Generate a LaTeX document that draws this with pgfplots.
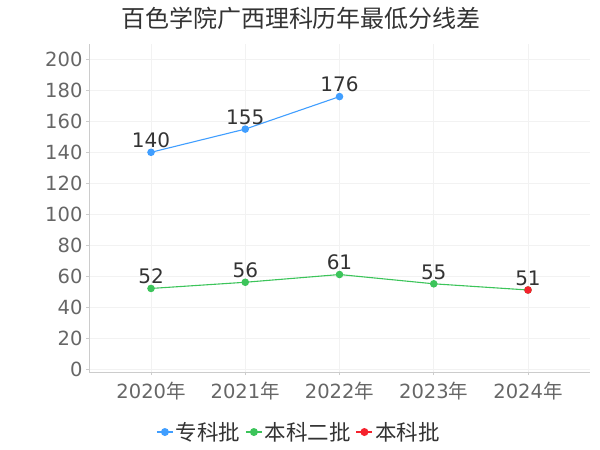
\documentclass[border=0pt]{standalone}
\usepackage{pgfplots}
\pgfplotsset{compat=1.18}
\usepackage{fontspec}
\setmainfont{DejaVu Sans}
\newfontfamily\cjk{Noto Sans CJK SC}
\definecolor{cblue}{HTML}{409EFF}
\definecolor{cgreen}{HTML}{3CC45A}
\definecolor{cred}{HTML}{F5222D}
\definecolor{ctick}{HTML}{666666}
\definecolor{clabel}{HTML}{333333}
\definecolor{caxis}{HTML}{CCCCCC}
\definecolor{cgrid}{HTML}{F2F2F2}
\begin{document}
\begin{tikzpicture}[x=1pt,y=1pt]
\path[use as bounding box] (0,0) rectangle (600,450);
\node[font=\cjk\fontsize{24}{27}\selectfont, text=clabel] at (301,432) {百色学院广西理科历年最低分线差};
\begin{axis}[
  at={(89pt,78pt)}, anchor=south west,
  scale only axis, width=501pt, height=328pt,
  xmin=-0.658, xmax=4.658, ymin=-2, ymax=210,
  xtick={0,1,2,3,4},
  xticklabels={2020{\cjk 年},2021{\cjk 年},2022{\cjk 年},2023{\cjk 年},2024{\cjk 年}},
  ytick={0,20,...,200},
  /pgf/number format/assume math mode=true,
  tick label style={font=\fontsize{19.5}{21}\selectfont, text=ctick},
  xticklabel style={yshift=-4pt},
  axis x line*=bottom, axis y line*=left,
  axis line style={caxis, line width=0.8pt, -},
  tick style={caxis, line width=0.8pt},
  major tick length=3pt,
  tick align=outside,
  xtick pos=bottom, ytick pos=left,
  grid=major,
  major grid style={cgrid, line width=0.6pt},
  legend columns=3,
  legend style={at={(0.419,-0.183)}, anchor=center, draw=none, fill=none,
    /tikz/every even column/.append style={column sep=3pt},
    /tikz/every odd column/.append style={column sep=0pt},
    inner sep=0pt},
  legend image code/.code={
    \draw[#1, line width=1.5pt, mark repeat=2, mark phase=2] plot coordinates {(0pt,0pt)(8pt,0pt)(16pt,0pt)};
  },
  nodes near coords,
  every node near coord/.append style={font=\fontsize{20}{22}\selectfont, text=clabel, anchor=south, yshift=0.5pt},
  clip=false,
]
\addplot[cblue, line width=1.1pt, mark=*, mark size=3.2pt] coordinates {(0,140) (1,155) (2,176)};
\addlegendentry{\cjk\fontsize{21.5}{23}\selectfont\color{clabel}专科批}
\addplot[cgreen, line width=1.1pt, mark=*, mark size=3.2pt] coordinates {(0,52) (1,56) (2,61) (3,55) (4,51)};
\addlegendentry{\cjk\fontsize{21.5}{23}\selectfont\color{clabel}本科二批}
\addplot[cred, line width=1.1pt, mark=*, mark size=3.2pt, nodes near coords=\empty] coordinates {(4,51)};
\addlegendentry{\cjk\fontsize{21.5}{23}\selectfont\color{clabel}本科批}
\end{axis}
\end{tikzpicture}
\end{document}
